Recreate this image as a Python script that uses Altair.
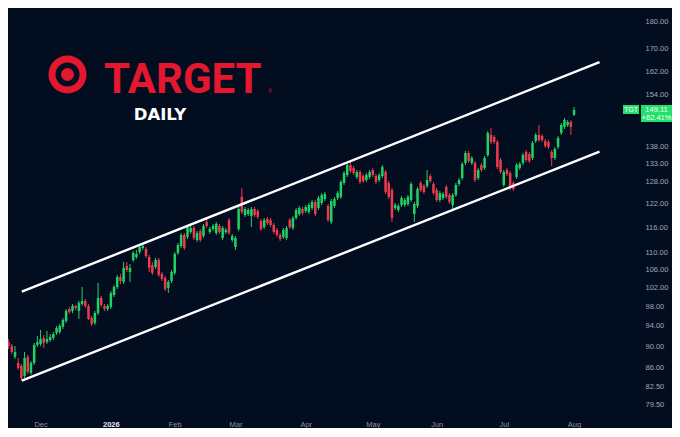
import altair as alt
import pandas as pd

# ---- daily candles (trading-day index 0 = mid Nov 2025) ----
opens = [
    91.97, 90.80, 90.03, 87.94, 86.82, 86.27, 84.44, 87.94, 84.98, 86.82,
    90.22, 90.41, 91.58, 90.80, 91.19, 91.58, 92.57, 92.77, 93.77, 94.98,
    97.44, 97.02, 98.07, 97.02, 98.49, 99.12, 98.07, 95.59, 94.57, 96.61,
    99.76, 98.07, 97.44, 97.86, 100.40, 102.13, 104.34, 103.23, 106.82, 105.47,
    108.21, 108.91, 110.07, 111.02, 110.78, 108.91, 107.05, 106.60, 108.21, 105.02,
    104.12, 101.92, 103.45, 105.24, 109.84, 111.49, 114.15, 113.66, 114.88, 115.87,
    112.93, 115.13, 113.91, 117.37, 114.88, 115.62, 114.64, 116.36, 113.42, 114.88,
    117.87, 112.93, 111.25, 115.62, 123.81, 119.13, 119.39, 118.88, 120.67, 120.15,
    117.62, 116.11, 118.12, 117.87, 116.61, 115.37, 114.15, 113.66, 113.42, 117.87,
    115.87, 118.37, 119.39, 120.67, 120.15, 119.90, 120.93, 122.50, 120.93, 122.23,
    123.28, 121.45, 117.37, 121.45, 123.55, 123.81, 127.57, 129.77, 132.58, 131.74,
    129.22, 130.61, 129.49, 128.39, 129.22, 131.17, 129.49, 128.39, 129.49, 130.61,
    127.57, 125.67, 120.93, 120.41, 121.71, 121.71, 121.97, 123.02, 119.39, 121.45,
    127.57, 126.76, 126.76, 129.49, 127.30, 125.67, 123.02, 123.55, 126.49, 124.34,
    121.71, 124.34, 127.30, 128.94, 133.15, 136.03, 133.15, 133.15, 128.94, 132.58,
    131.74, 135.44, 141.36, 140.76, 139.26, 134.00, 127.03, 131.17, 130.33, 127.57,
    129.22, 131.74, 133.15, 136.32, 135.73, 134.58, 139.56, 141.36, 141.06, 139.56,
    139.26, 136.32, 134.58, 137.78, 141.97, 143.80, 144.42, 145.35, 147.54,
]
highs = [
    92.77, 91.39, 90.41, 90.03, 87.76, 86.64, 88.88, 88.32, 87.19, 90.61,
    91.97, 93.16, 92.17, 92.96, 92.37, 92.77, 93.97, 94.37, 95.59, 97.44,
    97.86, 98.49, 98.28, 99.12, 102.13, 99.54, 98.49, 96.00, 97.02, 103.01,
    100.19, 98.49, 98.49, 101.26, 102.57, 104.79, 105.02, 107.75, 107.75, 107.28,
    110.31, 110.54, 111.73, 111.97, 111.25, 109.37, 107.75, 108.67, 108.67, 105.47,
    104.57, 103.67, 105.92, 110.07, 112.21, 114.64, 114.64, 116.61, 116.36, 116.36,
    115.13, 115.62, 116.86, 118.12, 116.11, 116.86, 117.37, 116.86, 116.36, 115.87,
    118.37, 114.39, 113.91, 121.19, 126.21, 121.19, 120.93, 121.19, 121.19, 120.67,
    118.12, 118.37, 118.63, 118.37, 117.11, 115.87, 114.64, 115.87, 116.36, 118.37,
    118.88, 120.93, 121.45, 121.19, 121.71, 122.23, 123.02, 123.02, 124.08, 124.87,
    125.14, 121.97, 123.28, 123.81, 125.40, 128.39, 130.89, 133.15, 133.43, 132.30,
    131.17, 131.17, 130.05, 130.33, 131.17, 131.74, 130.05, 130.33, 132.58, 131.17,
    128.12, 126.21, 122.23, 121.97, 124.08, 123.55, 124.34, 127.85, 122.50, 126.49,
    128.12, 127.30, 131.17, 130.05, 127.85, 126.21, 125.40, 125.14, 127.03, 124.87,
    124.87, 127.57, 128.94, 133.43, 136.61, 136.61, 135.15, 133.72, 131.74, 133.15,
    135.15, 142.58, 143.50, 141.36, 139.86, 134.58, 131.17, 131.74, 130.89, 128.12,
    133.15, 133.43, 136.03, 136.90, 136.32, 139.56, 141.97, 144.42, 141.67, 140.16,
    139.86, 136.90, 137.78, 141.06, 145.04, 146.60, 145.97, 145.97, 150.08,
]
lows = [
    90.22, 89.45, 88.51, 87.57, 85.53, 83.54, 84.08, 84.80, 84.62, 86.45,
    89.84, 90.03, 89.64, 90.41, 90.80, 91.19, 92.17, 92.37, 93.36, 94.57,
    96.41, 96.61, 97.23, 95.39, 98.07, 97.65, 95.18, 93.97, 94.17, 96.20,
    97.86, 97.02, 97.02, 97.44, 99.97, 101.70, 102.79, 102.79, 105.47, 103.23,
    107.75, 108.44, 109.60, 110.54, 108.67, 105.47, 104.79, 106.15, 104.34, 103.45,
    101.26, 100.83, 103.01, 104.79, 109.37, 111.02, 110.54, 113.17, 114.39, 112.93,
    112.45, 112.45, 113.42, 115.87, 114.39, 115.13, 114.15, 114.39, 112.93, 114.39,
    114.15, 112.45, 110.54, 115.13, 119.39, 118.63, 118.88, 116.11, 118.63, 118.12,
    115.13, 115.62, 116.61, 116.11, 114.39, 113.66, 112.69, 113.17, 112.93, 115.62,
    115.37, 117.87, 118.88, 119.13, 119.64, 119.39, 120.41, 118.88, 120.41, 121.71,
    122.76, 117.37, 116.86, 120.93, 123.02, 123.28, 127.03, 129.22, 130.33, 129.77,
    128.67, 127.30, 127.57, 127.85, 128.67, 129.22, 127.30, 127.85, 128.94, 124.61,
    123.28, 117.37, 120.41, 119.90, 121.19, 121.19, 121.45, 122.50, 117.37, 120.93,
    125.14, 124.61, 126.21, 127.57, 124.34, 122.50, 122.50, 123.02, 123.28, 121.97,
    120.67, 123.81, 126.76, 128.39, 132.58, 133.15, 132.58, 127.85, 128.39, 130.61,
    131.17, 134.86, 138.67, 138.67, 131.45, 130.05, 126.49, 129.49, 125.67, 125.40,
    128.67, 131.17, 132.58, 133.43, 133.15, 134.00, 138.97, 139.26, 139.26, 137.49,
    137.20, 132.30, 134.00, 137.20, 141.36, 143.19, 143.80, 141.36, 147.23,
]
closes = [
    90.61, 90.03, 88.88, 88.88, 85.90, 84.08, 87.76, 85.17, 86.82, 90.22,
    90.80, 91.39, 90.61, 91.39, 91.78, 92.37, 93.56, 93.97, 95.18, 97.02,
    96.82, 98.07, 97.65, 98.70, 99.12, 98.07, 95.39, 94.37, 96.61, 99.76,
    98.28, 97.44, 98.07, 100.83, 102.13, 104.34, 103.45, 106.37, 105.92, 106.37,
    109.84, 109.60, 111.25, 111.49, 109.14, 106.37, 105.24, 108.21, 104.79, 103.90,
    101.70, 103.23, 105.47, 109.60, 111.73, 114.15, 111.02, 116.11, 115.87, 113.42,
    114.64, 112.93, 116.36, 116.36, 115.62, 116.36, 116.86, 114.88, 115.87, 115.37,
    114.64, 113.91, 113.42, 120.67, 119.90, 120.67, 120.41, 120.67, 119.13, 118.63,
    115.62, 117.87, 117.11, 116.61, 114.88, 114.15, 113.17, 115.37, 115.87, 116.11,
    118.37, 120.41, 120.93, 119.64, 121.19, 121.71, 122.50, 119.39, 123.55, 124.34,
    124.61, 117.87, 122.76, 123.28, 124.87, 127.85, 130.33, 132.58, 130.89, 130.33,
    130.61, 127.85, 128.12, 129.77, 130.61, 129.77, 127.85, 129.77, 132.02, 125.14,
    123.81, 118.37, 121.71, 121.45, 123.55, 123.02, 123.81, 127.30, 121.97, 125.94,
    125.67, 125.14, 128.39, 128.12, 124.87, 123.02, 124.87, 124.61, 123.81, 122.50,
    124.34, 127.03, 128.39, 132.86, 136.03, 133.72, 134.58, 128.39, 131.17, 131.17,
    134.58, 141.97, 139.26, 139.26, 132.02, 130.61, 130.61, 130.05, 126.21, 125.94,
    132.58, 132.86, 135.44, 134.00, 133.72, 138.97, 141.36, 139.86, 139.86, 138.08,
    137.78, 134.58, 137.20, 140.46, 144.42, 145.97, 145.35, 143.80, 149.11,
]

# month boundaries (trading-day index) and their axis labels
month_ticks = [11, 33, 53, 72, 94, 115, 135, 156, 178]
month_labels = ["Dec", "2026", "Feb", "Mar", "Apr", "May", "Jun", "Jul", "Aug"]
price_ticks = [79.5, 82.5, 86, 90, 94, 98, 102, 106, 110, 116, 122, 128, 133,
               138, 154, 162, 170, 180]

# trend channel (start / end bar and prices)
channel_bars = [5.14, 185.98]
upper_channel = [101.1, 165.2]
lower_channel = [83.6, 136.4]

ticker = "TGT"
change_pct = 62.41

# ---- styling ----
BG = "#030d20"
GREEN = "#22d163"
RED = "#ee3a4d"
LABEL_GREEN = "#22e06a"
TARGET_RED = "#e3172d"

n = len(opens)
assert len(highs) == n and len(lows) == n and len(closes) == n
candles = pd.DataFrame({
    "bar": list(range(n)),
    "open": opens, "high": highs, "low": lows, "close": closes,
})
candles["dir"] = ["up" if c >= o else "down" for o, c in zip(opens, closes)]

channel = pd.DataFrame({
    "bar": channel_bars * 2,
    "price": upper_channel + lower_channel,
    "line": ["upper", "upper", "lower", "lower"],
})

xs = alt.Scale(domain=[2.372, 196.457], nice=False, zero=False)
ys = alt.Scale(type="log", domain=[78.17, 185.47], nice=False, zero=False)
col = alt.Color("dir:N", scale=alt.Scale(domain=["up", "down"], range=[GREEN, RED]), legend=None)

label_expr = "[" + ",".join(f"'{m}'" for m in month_labels) + "][indexof([" + \
    ",".join(str(t) for t in month_ticks) + "], datum.value)]"
x_axis = alt.Axis(
    values=month_ticks, labelExpr=label_expr, grid=False, ticks=False, domain=False,
    labelFontSize=7.5, labelFont="Liberation Sans", labelPadding=8, title=None,
    labelOverlap=False, labelFlush=False,
    labelColor={"condition": {"test": "datum.value == 33", "value": "#e6e9ef"}, "value": "#8a92a3"},
    labelFontWeight={"condition": {"test": "datum.value == 33", "value": "bold"}, "value": "normal"},
)
y_axis = alt.Axis(
    orient="right", values=price_ticks, format=".2f", grid=False, ticks=False, domain=False,
    labelFontSize=7.5, labelFont="Liberation Sans", labelColor="#a1a8b6", labelPadding=7,
    title=None, labelOverlap=False, labelFlush=False,
)

wicks = alt.Chart(candles).mark_rule(strokeWidth=1, clip=True).encode(
    x=alt.X("bar:Q", scale=xs, axis=x_axis),
    y=alt.Y("low:Q", scale=ys, axis=y_axis),
    y2="high:Q",
    color=col,
)
bodies = alt.Chart(candles).mark_bar(size=2.5, clip=True).encode(
    x=alt.X("bar:Q", scale=xs),
    y=alt.Y("open:Q", scale=ys),
    y2="close:Q",
    color=col,
)
lines = alt.Chart(channel).mark_line(color="white", strokeWidth=2.4, clip=True).encode(
    x=alt.X("bar:Q", scale=xs),
    y=alt.Y("price:Q", scale=ys),
    detail="line:N",
)

one = pd.DataFrame({"k": [0]})


def dot(px, py, size, color):
    return alt.Chart(one).mark_point(shape="circle", filled=True, opacity=1, size=size,
                                     color=color, strokeWidth=0).encode(
        x=alt.value(px), y=alt.value(py))


def label(text, px, py, size, color, weight="normal", font="Liberation Sans",
          align="center", baseline="middle"):
    return alt.Chart(one).mark_text(text=text, fontSize=size, color=color, fontWeight=weight,
                                    font=font, align=align, baseline=baseline).encode(
        x=alt.value(px), y=alt.value(py))


def box(x1, x2, y1, y2, color):
    return alt.Chart(one).mark_rect(color=color).encode(
        x=alt.value(x1), x2=alt.value(x2), y=alt.value(y1), y2=alt.value(y2))


logo = [
    dot(59.5, 66.5, 1444, TARGET_RED),
    dot(59.5, 66.5, 576, BG),
    dot(59.5, 66.5, 169, TARGET_RED),
    label("TARGET", 96, 85, 42, TARGET_RED, "bold", "Roboto", "left", "alphabetic"),
    label("®", 262, 83, 5, TARGET_RED),
    label("DAILY", 152, 112, 16.5, "white", "bold", "DejaVu Sans", "center", "alphabetic"),
]

last = closes[-1]
price_tag = [
    box(615, 631, 97, 106, LABEL_GREEN),
    box(633, 664, 97, 114, LABEL_GREEN),
    label(ticker, 623, 101.8, 7, "white"),
    label(f"{last:.2f}", 648.5, 101.8, 7.5, "white"),
    label(f"+{change_pct:.2f}%", 648.5, 110, 7.5, "white"),
]

chart = alt.layer(wicks, bodies, lines, *logo, *price_tag).properties(
    width=630, height=404, background=BG, padding=0,
).configure_view(strokeWidth=0)

chart.save("out.html", embed_options={"renderer": "svg", "actions": False})
